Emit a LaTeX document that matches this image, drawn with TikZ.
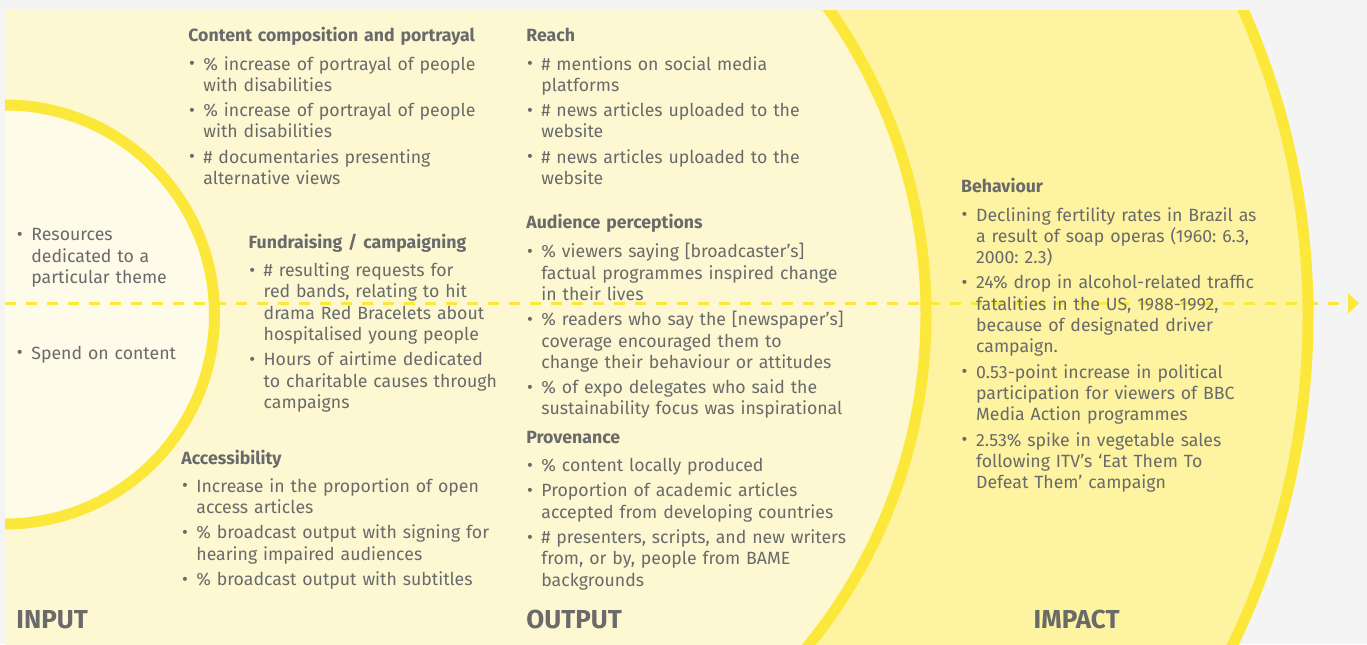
\documentclass[tikz,border=0pt]{standalone}
\usepackage{fontspec}
\setmainfont{Fira Sans}
\usepackage{tikz}
\usetikzlibrary{arrows.meta}

\definecolor{bggray}{HTML}{F4F4F4}
\definecolor{palefill}{HTML}{FDF8D2}
\definecolor{creamfill}{HTML}{FEFBE9}
\definecolor{impactfill}{HTML}{FDF3A0}
\definecolor{ringline}{HTML}{FCE83A}
\definecolor{txtgray}{HTML}{6A6A6A}

\newcommand{\bul}{\makebox[7.5pt][l]{\hspace{0.3pt}\raisebox{0.2pt}{\fontsize{9}{9}\selectfont\textbullet}}}
\newcommand{\itm}{\par\vspace{2pt}\hangindent=7.5pt\hangafter=1\noindent\bul}
\newcommand{\hdg}[1]{\textbf{#1}\par\vspace{1.5pt}}

\begin{document}
\begin{tikzpicture}[x=0.5pt,y=-0.5pt,
    ring/.style={draw=ringline,line width=5.5pt},
    flow/.style={draw=ringline,line width=1.65pt,dash pattern=on 5.35pt off 5.15pt,
      -{Triangle[length=5.5pt,width=10pt]}},
    blk/.style={anchor=base west,inner sep=0pt,text width=230pt,text=txtgray,
      font=\fontsize{8.85}{10.65}\selectfont\frenchspacing},
    stage/.style={anchor=base west,inner sep=0pt,text=txtgray,
      font=\fontsize{13}{13}\selectfont\bfseries}]

  \useasboundingbox (0,0) rectangle (1367,644);
  \fill[bggray] (0,0) rectangle (1367,644);

  \begin{scope}
    \clip (5,10) rectangle (1367,644);
    \fill[impactfill] (554.5,316) circle (753.5);
    \fill[palefill] (400,314) circle (526);
    \fill[creamfill] (5,314.5) circle (209.5);

    \coordinate (flowstart) at (5,303.3);
    \coordinate (flowend) at (1359,303.3);
    \draw[flow] (flowstart) -- (flowend);

    \draw[ring] (554.5,316) circle (753.5);
    \draw[ring] (400,314) circle (526);
    \draw[ring] (5,314.5) circle (209.5);
  \end{scope}

  \node[blk] (resources) at (16,240.7) {\hangindent=7.5pt\hangafter=1\noindent\bul
    Resources\newline dedicated to a\newline particular theme\par};
  \node[blk] (spend) at (16,359.3) {\noindent\bul Spend on content\par};

  \node[blk] (composition) at (188,41.7) {\hdg{Content composition and portrayal}
    \itm \% increase of portrayal of people\newline with disabilities
    \itm \% increase of portrayal of people\newline with disabilities
    \itm \# documentaries presenting\newline alternative views\par};

  \node[blk] (fundraising) at (248.3,248.3) {\hdg{Fundraising / campaigning}
    \itm \# resulting requests for\newline red bands, relating to hit\newline
      drama Red Bracelets about\newline hospitalised young people
    \itm Hours of airtime dedicated\newline to charitable causes through\newline campaigns\par};

  \node[blk] (accessibility) at (181,464) {\hdg{Accessibility}
    \itm Increase in the proportion of open\newline access articles
    \itm \% broadcast output with signing for\newline hearing impaired audiences
    \itm \% broadcast output with subtitles\par};

  \node[blk] (reach) at (526,41.7) {\hdg{Reach}
    \itm \# mentions on social media\newline platforms
    \itm \# news articles uploaded to the\newline website
    \itm \# news articles uploaded to the\newline website\par};

  \node[blk] (audience) at (526,228.3) {\hdg{Audience perceptions}\vspace{0.6pt}
    \itm \% viewers saying [broadcaster’s]\newline factual programmes inspired change\newline in their lives
    \itm \% readers who say the [newspaper’s]\newline coverage encouraged them to\newline
      change their behaviour or attitudes
    \itm \% of expo delegates who said the\newline sustainability focus was inspirational\par};

  \node[blk] (provenance) at (526,443.3) {\hdg{Provenance}
    \itm \% content locally produced
    \itm Proportion of academic articles\newline accepted from developing countries
    \itm \# presenters, scripts, and new writers\newline from, or by, people from BAME\newline backgrounds\par};

  \node[blk] (behaviour) at (960.7,192.7) {\hdg{Behaviour}
    \itm Declining fertility rates in Brazil as\newline a result of soap operas (1960: 6.3,\newline 2000: 2.3)
    \itm 24\% drop in alcohol-related traffic\newline fatalities in the US, 1988-1992,\newline
      because of designated driver\newline campaign.
    \itm 0.53-point increase in political\newline participation for viewers of BBC\newline Media Action programmes
    \itm 2.53\% spike in vegetable sales\newline following ITV’s ‘Eat Them To\newline Defeat Them’ campaign\par};

  \node[stage] (input) at (16,628.3) {INPUT};
  \node[stage] (output) at (526,628.3) {OUTPUT};
  \node[stage] (impact) at (1033.3,628.3) {IMPACT};
\end{tikzpicture}
\end{document}
